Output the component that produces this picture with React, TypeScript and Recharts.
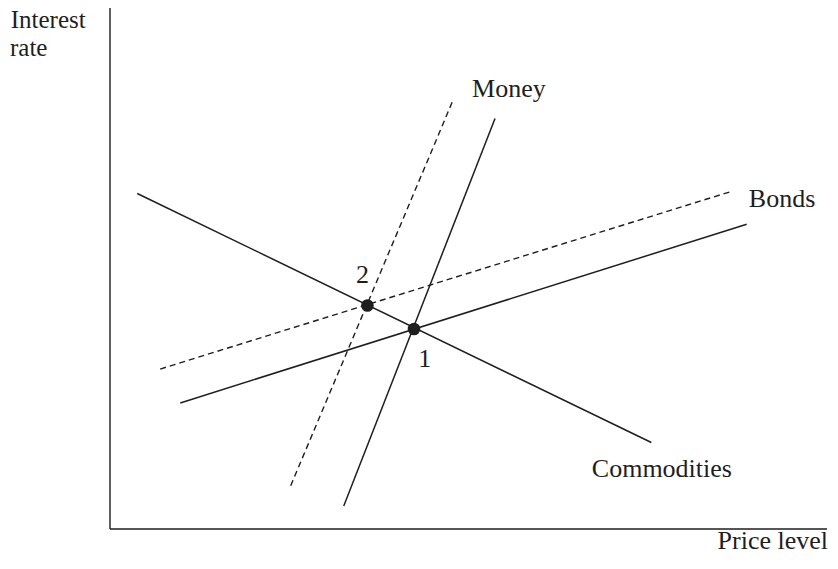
import {
  ComposedChart,
  Line,
  Scatter,
  XAxis,
  YAxis,
  ReferenceLine,
} from 'recharts'

// endpoints of each schedule, in (price level, interest rate) units 0..100
const commodities = [
  { x: 3.8, y: 64.4 },
  { x: 75.5, y: 16.6 },
]
const bondsBefore = [
  { x: 9.8, y: 24.2 },
  { x: 88.8, y: 58.5 },
]
const bondsAfter = [
  { x: 7.0, y: 30.7 },
  { x: 86.9, y: 64.9 },
]
const moneyBefore = [
  { x: 32.6, y: 4.4 },
  { x: 53.7, y: 78.8 },
]
const moneyAfter = [
  { x: 25.2, y: 8.3 },
  { x: 47.9, y: 82.5 },
]

const equilibria = [
  { x: 42.4, y: 38.4 },
  { x: 35.9, y: 42.9 },
]

const curveLabels = [
  { x: 50.5, y: 82.9, text: 'Money' },
  { x: 89.1, y: 61.8, text: 'Bonds' },
  { x: 67.2, y: 10.0, text: 'Commodities' },
  { x: 34.3, y: 47.2, text: '2' },
  { x: 43.0, y: 31.1, text: '1' },
]

const INK = '#1e1e1e'
const FONT = '"Liberation Serif", "DejaVu Serif", serif'

function Dot(props: any) {
  return <circle cx={props.cx} cy={props.cy} r={6.3} fill={INK} />
}

function Note(props: any) {
  return (
    <text x={props.cx} y={props.cy} fontFamily={FONT} fontSize={26} fill={INK}>
      {props.payload.text}
    </text>
  )
}

export default function App() {
  const W = 822
  const H = 553
  return (
    <div style={{ position: 'relative', width: W, height: H }}>
      <ComposedChart width={W} height={H} margin={{ top: 0, right: 3, bottom: 32, left: 102 }}>
        <XAxis type="number" dataKey="x" domain={[0, 100]} hide />
        <YAxis type="number" domain={[0, 100]} hide />
        <ReferenceLine x={0} stroke={INK} strokeWidth={1.4} />
        <ReferenceLine y={0} stroke={INK} strokeWidth={1.4} />
        <Line data={commodities} dataKey="y" type="linear" stroke={INK} strokeWidth={1.5} dot={false} isAnimationActive={false} />
        <Line data={bondsBefore} dataKey="y" type="linear" stroke={INK} strokeWidth={1.5} dot={false} isAnimationActive={false} />
        <Line data={bondsAfter} dataKey="y" type="linear" stroke={INK} strokeWidth={1.4} strokeDasharray="6 4" dot={false} isAnimationActive={false} />
        <Line data={moneyBefore} dataKey="y" type="linear" stroke={INK} strokeWidth={1.5} dot={false} isAnimationActive={false} />
        <Line data={moneyAfter} dataKey="y" type="linear" stroke={INK} strokeWidth={1.4} strokeDasharray="6 4" dot={false} isAnimationActive={false} />
        <Scatter data={equilibria} dataKey="y" shape={<Dot />} isAnimationActive={false} />
        <Scatter data={curveLabels} dataKey="y" shape={<Note />} isAnimationActive={false} />
      </ComposedChart>
      <svg
        width={W}
        height={H}
        style={{ position: 'absolute', left: 0, top: 0, overflow: 'visible', pointerEvents: 'none' }}
      >
        <text x={2.7} y={20} fontFamily={FONT} fontSize={25} fill={INK}>Interest</text>
        <text x={2} y={48} fontFamily={FONT} fontSize={25} fill={INK}>rate</text>
        <text x={820} y={541} textAnchor="end" fontFamily={FONT} fontSize={26} fill={INK}>Price level</text>
      </svg>
    </div>
  )
}
